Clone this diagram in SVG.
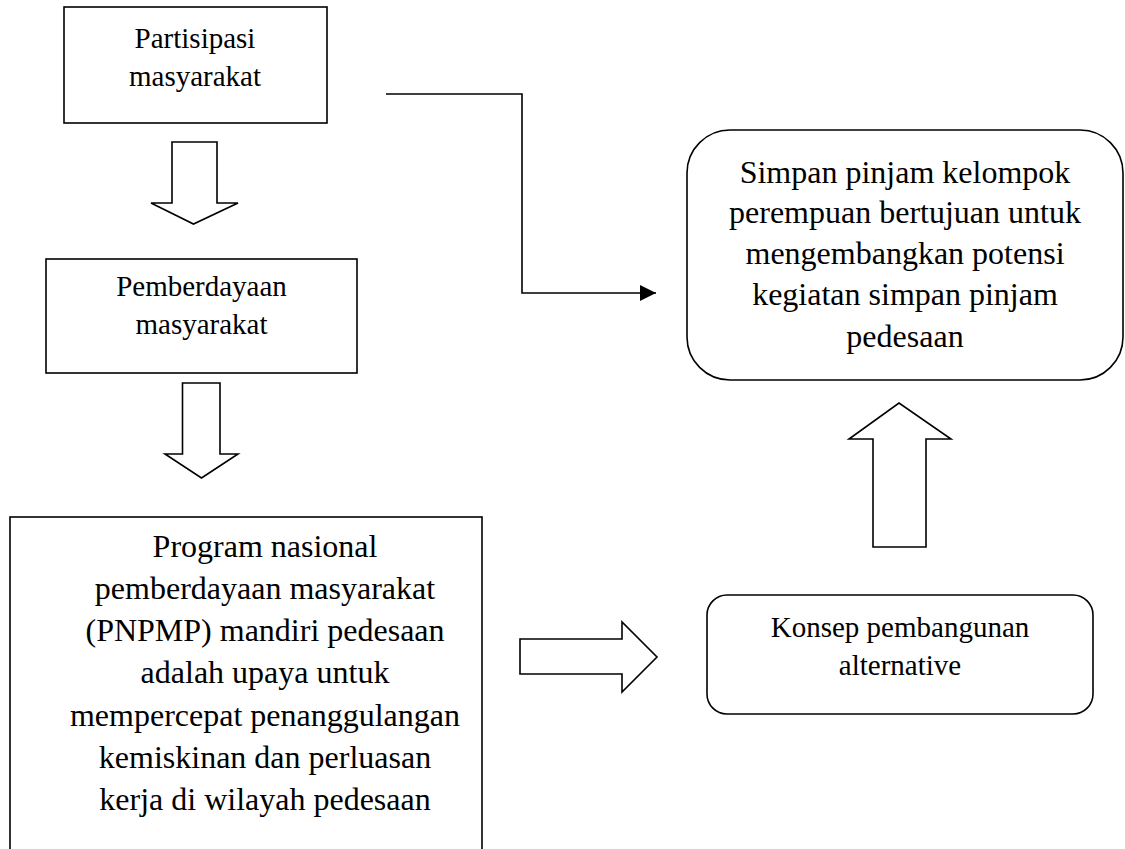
<svg xmlns="http://www.w3.org/2000/svg" width="1125" height="849" viewBox="0 0 1125 849">
<defs>
<style>
.box{fill:#fff;stroke:#000;stroke-width:1.6}
.blk{fill:#fff;stroke:#000;stroke-width:1.6;stroke-linejoin:miter}
.t{font-family:"Liberation Serif","Times New Roman",serif;fill:#000;text-anchor:middle}
.s{font-size:29px}
.b{font-size:32px}
.ln{fill:none;stroke:#000;stroke-width:1.6}
</style>
<marker id="ah" markerWidth="16" markerHeight="16" refX="16" refY="8" orient="auto" markerUnits="userSpaceOnUse">
<path d="M0,0 L16,8 L0,16 Z" fill="#000"/>
</marker>
</defs>
<rect width="1125" height="849" fill="#fff"/>
<g id="n-partisipasi">
<rect class="box" x="64" y="7" width="263" height="116"/>
<text class="t s" x="195" y="48">Partisipasi</text>
<text class="t s" x="195" y="86">masyarakat</text>
</g>
<g id="n-pemberdayaan">
<rect class="box" x="46" y="259" width="311" height="114"/>
<text class="t s" x="201.5" y="296">Pemberdayaan</text>
<text class="t s" x="201.5" y="334">masyarakat</text>
</g>
<g id="n-program">
<rect class="box" x="10" y="517" width="472" height="345"/>
<text class="t b" x="265" y="557">Program nasional</text>
<text class="t b" x="265" y="599">pemberdayaan masyarakat</text>
<text class="t b" x="265" y="641">(PNPMP) mandiri pedesaan</text>
<text class="t b" x="265" y="683">adalah upaya untuk</text>
<text class="t b" x="265" y="726">mempercepat penanggulangan</text>
<text class="t b" x="265" y="768">kemiskinan dan perluasan</text>
<text class="t b" x="265" y="810">kerja di wilayah pedesaan</text>
</g>
<g id="n-konsep">
<rect class="box" x="707" y="595" width="386" height="119" rx="20" ry="20"/>
<text class="t s" x="900" y="637">Konsep pembangunan</text>
<text class="t s" x="900" y="675">alternative</text>
</g>
<g id="n-simpan">
<rect class="box" x="687" y="130" width="436" height="250" rx="43" ry="43"/>
<text class="t b" x="905" y="183">Simpan pinjam kelompok</text>
<text class="t b" x="905" y="223">perempuan bertujuan untuk</text>
<text class="t b" x="905" y="264">mengembangkan potensi</text>
<text class="t b" x="905" y="305">kegiatan simpan pinjam</text>
<text class="t b" x="905" y="347">pedesaan</text>
</g>
<g id="connectors">
<path class="blk" d="M172,142 L217,142 L217,203 L238,203 L193.5,224 L151,203 L172,203 Z"/>
<path class="blk" d="M182.5,383 L220,383 L220,454 L238,454 L201.5,478 L165,454 L182.5,454 Z"/>
<path class="blk" d="M520,639 L622,639 L622,622 L657,657 L622,692 L622,674 L520,674 Z"/>
<path class="blk" d="M873,547 L926,547 L926,439 L951,439 L899,403 L849,439 L873,439 Z"/>
<path class="ln" d="M386,94 L522,94 L522,293 L656,293" marker-end="url(#ah)"/>
</g>
</svg>
